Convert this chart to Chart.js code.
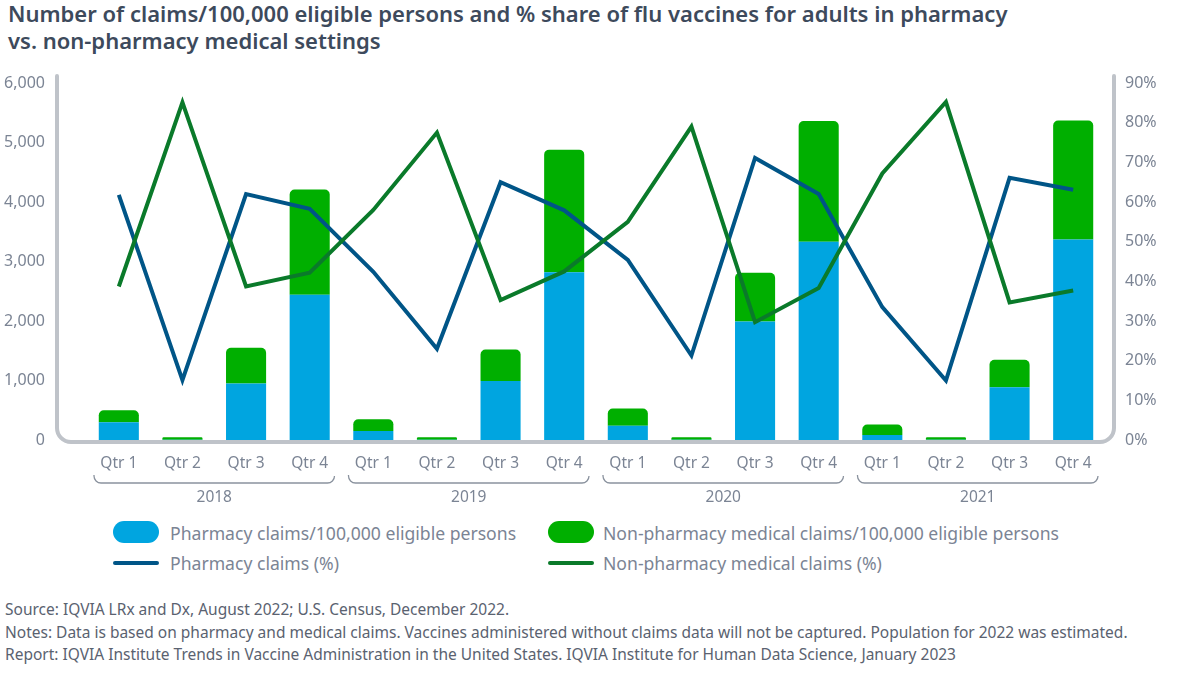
<!DOCTYPE html>
<html>
<head>
<meta charset="utf-8">
<script src="https://cdn.jsdelivr.net/npm/chart.js@4"></script>
<style>
    body { margin: 0; width: 1180px; height: 682px; background: #fff; font-family: "Noto Sans", sans-serif; position: relative; overflow: hidden; }
    #title { position: absolute; left: 8px; top: 0px; font-size: 22px; font-weight: 600; line-height: 27px; color: #3d4a5c; }
    #chartBox { position: absolute; left: 0; top: 60px; width: 1180px; height: 450px; }
    .lg { position: absolute; font-size: 17.6px; color: #7b8494; line-height: 24px; white-space: nowrap; }
    .sw { position: absolute; width: 46px; height: 22px; border-radius: 11px; }
    .ln { position: absolute; width: 46px; height: 4px; border-radius: 2px; }
    #foot { position: absolute; left: 5px; top: 598px; font-size: 15.5px; line-height: 22.5px; color: #5a6270; white-space: nowrap; }
</style>
</head>
<body>
<div id="title">Number of claims/100,000 eligible persons and % share of flu vaccines for adults in pharmacy<br>vs. non-pharmacy medical settings</div>
<div id="chartBox"><canvas id="claimsChart"></canvas></div>

<div class="sw" style="left:113px; top:521px; background:#00a5e0;"></div>
<div class="lg" style="left:170px; top:521px;">Pharmacy claims/100,000 eligible persons</div>
<div class="sw" style="left:548px; top:521px; background:#00af00;"></div>
<div class="lg" style="left:603px; top:521px;">Non-pharmacy medical claims/100,000 eligible persons</div>
<div class="ln" style="left:113px; top:561px; background:#005587;"></div>
<div class="lg" style="left:170px; top:551px;">Pharmacy claims (%)</div>
<div class="ln" style="left:548px; top:561px; background:#0a7a2a;"></div>
<div class="lg" style="left:603px; top:551px;">Non-pharmacy medical claims (%)</div>

<div id="foot">Source: IQVIA LRx and Dx, August 2022; U.S. Census, December 2022.<br>Notes: Data is based on pharmacy and medical claims. Vaccines administered without claims data will not be captured. Population for 2022 was estimated.<br>Report: IQVIA Institute Trends in Vaccine Administration in the United States. IQVIA Institute for Human Data Science, January 2023</div>

<script>
var quarterLabels = ['Qtr 1', 'Qtr 2', 'Qtr 3', 'Qtr 4', 'Qtr 1', 'Qtr 2', 'Qtr 3', 'Qtr 4',
                     'Qtr 1', 'Qtr 2', 'Qtr 3', 'Qtr 4', 'Qtr 1', 'Qtr 2', 'Qtr 3', 'Qtr 4'];
var years = ['2018', '2019', '2020', '2021'];

// claims per 100,000 eligible persons (left axis)
var pharmClaims = [300, 5, 950, 2440, 150, 5, 990, 2820, 240, 5, 1990, 3330, 85, 5, 885, 3370];
var nonPharmClaims = [200, 40, 600, 1770, 200, 40, 530, 2060, 290, 40, 820, 2030, 175, 40, 465, 2000];

// % share (right axis)
var pharmPct = [61.8, 15.1, 62.0, 58.3, 42.4, 23.0, 65.0, 57.9, 45.4, 21.3, 71.1, 62.0, 33.5, 15.0, 66.1, 63.1];
var nonPharmPct = [38.7, 85.1, 38.7, 42.2, 58.0, 77.5, 35.3, 42.5, 55.0, 79.0, 29.7, 38.3, 67.2, 85.2, 34.7, 37.7];

var tickColor = '#7b8494';

// fixed axis widths, and drop the tick padding chart.js adds above/below the labels
function fitAxis(width) {
    return function (s) {
        s.width = width;
        s.paddingTop = 0;
        s.paddingBottom = 0;
    };
}

// grey frame round the plot + year brackets under the quarters
var framePlugin = {
    id: 'frame',
    beforeDatasetsDraw: function (chart) {
        var ctx = chart.ctx, area = chart.chartArea;
        var left = 57, right = 1114, top = area.top - 7, bottom = area.bottom + 2, r = 14;
        ctx.save();
        ctx.strokeStyle = '#bfc3c9';
        ctx.lineWidth = 4;
        ctx.lineCap = 'round';
        ctx.beginPath();
        ctx.moveTo(left, top);
        ctx.lineTo(left, bottom - r);
        ctx.arcTo(left, bottom, left + r, bottom, r);
        ctx.lineTo(right - r, bottom);
        ctx.arcTo(right, bottom, right, bottom - r, r);
        ctx.lineTo(right, top);
        ctx.stroke();
        ctx.restore();
    },
    afterDraw: function (chart) {
        var ctx = chart.ctx, x = chart.scales.x, area = chart.chartArea;
        var half = (x.getPixelForValue(1) - x.getPixelForValue(0)) / 2 - 7;
        var yTop = area.bottom + 35, yBot = area.bottom + 43, r = 7;
        ctx.save();
        ctx.strokeStyle = '#8a929e';
        ctx.lineWidth = 1.3;
        ctx.fillStyle = tickColor;
        ctx.font = '15.5px "Noto Sans"';
        ctx.textAlign = 'center';
        ctx.textBaseline = 'middle';
        years.forEach(function (yr, i) {
            var x0 = x.getPixelForValue(i * 4) - half;
            var x1 = x.getPixelForValue(i * 4 + 3) + half;
            ctx.beginPath();
            ctx.moveTo(x0, yTop);
            ctx.arcTo(x0, yBot, x0 + r, yBot, r);
            ctx.lineTo(x1 - r, yBot);
            ctx.arcTo(x1, yBot, x1, yTop, r);
            ctx.stroke();
            ctx.fillText(yr, (x0 + x1) / 2, area.bottom + 58);
        });
        ctx.restore();
    }
};

document.addEventListener('DOMContentLoaded', function () {
    var ctx = document.getElementById('claimsChart').getContext('2d');
    new Chart(ctx, {
        data: {
            labels: quarterLabels,
            datasets: [
                {
                    type: 'line',
                    label: 'Non-pharmacy medical claims (%)',
                    data: nonPharmPct,
                    yAxisID: 'y1',
                    borderColor: '#0a7a2a',
                    borderWidth: 4,
                    pointRadius: 0,
                    tension: 0,
                    order: 0
                },
                {
                    type: 'line',
                    label: 'Pharmacy claims (%)',
                    data: pharmPct,
                    yAxisID: 'y1',
                    borderColor: '#005587',
                    borderWidth: 4,
                    pointRadius: 0,
                    tension: 0,
                    order: 1
                },
                {
                    type: 'bar',
                    label: 'Pharmacy claims/100,000 eligible persons',
                    data: pharmClaims,
                    yAxisID: 'y',
                    backgroundColor: '#00a5e0',
                    borderRadius: 0,
                    barPercentage: 0.63,
                    categoryPercentage: 1,
                    order: 2
                },
                {
                    type: 'bar',
                    label: 'Non-pharmacy medical claims/100,000 eligible persons',
                    data: nonPharmClaims,
                    yAxisID: 'y',
                    backgroundColor: '#00af00',
                    borderRadius: { topLeft: 5, topRight: 5 },
                    borderSkipped: false,
                    barPercentage: 0.63,
                    categoryPercentage: 1,
                    order: 2
                }
            ]
        },
        options: {
            responsive: true,
            maintainAspectRatio: false,
            animation: false,
            layout: { padding: { top: 23, bottom: 0, left: 0, right: 0 } },
            plugins: {
                legend: { display: false },
                tooltip: { enabled: false }
            },
            scales: {
                x: {
                    stacked: true,
                    grid: { display: false, drawTicks: false },
                    border: { display: false },
                    ticks: { color: tickColor, font: { family: 'Noto Sans', size: 15.5 }, padding: 14, maxRotation: 0, autoSkip: false },
                    afterFit: function (s) { s.height = 70; }
                },
                y: {
                    stacked: true,
                    position: 'left',
                    min: 0,
                    max: 6000,
                    grid: { display: false, drawTicks: false },
                    border: { display: false },
                    ticks: {
                        stepSize: 1000,
                        color: tickColor,
                        font: { family: 'Noto Sans', size: 16 },
                        padding: 42,
                        callback: function (v) { return v.toLocaleString('en-US'); }
                    },
                    afterFit: fitAxis(87)
                },
                y1: {
                    position: 'right',
                    min: 0,
                    max: 90,
                    grid: { display: false, drawTicks: false },
                    border: { display: false },
                    ticks: {
                        stepSize: 10,
                        color: tickColor,
                        font: { family: 'Noto Sans', size: 16 },
                        padding: 20,
                        callback: function (v) { return v + '%'; }
                    },
                    afterFit: fitAxis(75)
                }
            }
        },
        plugins: [framePlugin]
    });
});
</script>
</body>
</html>
